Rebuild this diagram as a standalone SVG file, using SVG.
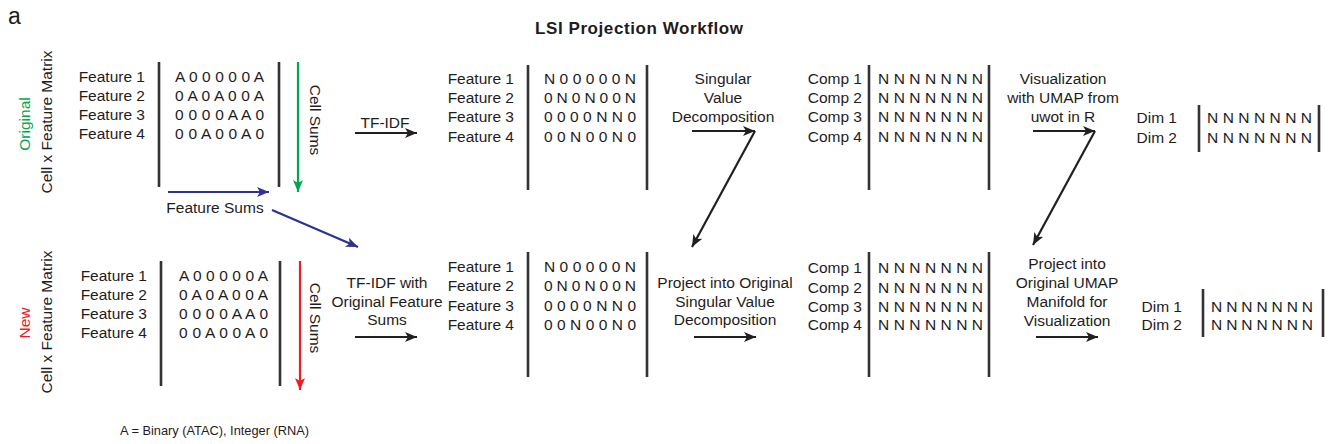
<svg xmlns="http://www.w3.org/2000/svg" width="1331" height="444" viewBox="0 0 1331 444">
<style>
text{font-family:"Liberation Sans",Arial,sans-serif;font-size:15.5px;fill:#1f1c1d}
.r{text-anchor:end}
.m{text-anchor:middle}
.bar{stroke:#333;stroke-width:2.6;fill:none}
.ar{stroke:#231f20;stroke-width:2.2;fill:none;marker-end:url(#hk)}
</style>
<defs>
<marker id="hk" markerUnits="userSpaceOnUse" markerWidth="14" markerHeight="12" refX="12" refY="5" orient="auto"><path d="M0,0 L12,5 L0,10 L3,5 Z" fill="#231f20"/></marker>
<marker id="hg" markerUnits="userSpaceOnUse" markerWidth="14" markerHeight="12" refX="12" refY="5" orient="auto"><path d="M0,0 L12,5 L0,10 L3,5 Z" fill="#00a651"/></marker>
<marker id="hr" markerUnits="userSpaceOnUse" markerWidth="14" markerHeight="12" refX="12" refY="5" orient="auto"><path d="M0,0 L12,5 L0,10 L3,5 Z" fill="#ed1c24"/></marker>
<marker id="hb" markerUnits="userSpaceOnUse" markerWidth="14" markerHeight="12" refX="12" refY="5" orient="auto"><path d="M0,0 L12,5 L0,10 L3,5 Z" fill="#2e3192"/></marker>
</defs>
<rect width="1331" height="444" fill="#fff"/>
<text x="8" y="24" style="font-size:23px">a</text>
<text x="535" y="34" textLength="208" lengthAdjust="spacing" style="font-weight:bold;font-size:17px">LSI Projection Workflow</text>

<g id="label-original">
<text class="m" transform="translate(30,124) rotate(-90)" style="fill:#00a651">Original</text>
<text class="m" transform="translate(52,122) rotate(-90)">Cell x Feature Matrix</text>
</g>
<g id="label-new">
<text class="m" transform="translate(30,323) rotate(-90)" style="fill:#ed1c24">New</text>
<text class="m" transform="translate(52,322) rotate(-90)">Cell x Feature Matrix</text>
</g>

<g id="matrix-original">
<text class="r" x="145" y="81.7">Feature 1</text>
<text class="r" x="145" y="101">Feature 2</text>
<text class="r" x="145" y="120.2">Feature 3</text>
<text class="r" x="145" y="139.4">Feature 4</text>
<line class="bar" x1="159" y1="62" x2="159" y2="187"/>
<text x="175" y="81.7" textLength="89" lengthAdjust="spacing">A 0 0 0 0 0 A</text>
<text x="175" y="101" textLength="89" lengthAdjust="spacing">0 A 0 A 0 0 A</text>
<text x="175" y="120.2" textLength="89" lengthAdjust="spacing">0 0 0 0 A A 0</text>
<text x="175" y="139.4" textLength="89" lengthAdjust="spacing">0 0 A 0 0 A 0</text>
<line class="bar" x1="279" y1="62" x2="279" y2="187"/>
</g>

<g id="matrix-new">
<text class="r" x="147" y="280.5">Feature 1</text>
<text class="r" x="147" y="299.8">Feature 2</text>
<text class="r" x="147" y="319">Feature 3</text>
<text class="r" x="147" y="338.2">Feature 4</text>
<line class="bar" x1="161" y1="261" x2="161" y2="386"/>
<text x="179" y="280.5" textLength="89" lengthAdjust="spacing">A 0 0 0 0 0 A</text>
<text x="179" y="299.8" textLength="89" lengthAdjust="spacing">0 A 0 A 0 0 A</text>
<text x="179" y="319" textLength="89" lengthAdjust="spacing">0 0 0 0 A A 0</text>
<text x="179" y="338.2" textLength="89" lengthAdjust="spacing">0 0 A 0 0 A 0</text>
<line class="bar" x1="280" y1="261" x2="280" y2="386"/>
</g>

<g id="tfidf-original">
<text class="r" x="514" y="83.6">Feature 1</text>
<text class="r" x="514" y="103">Feature 2</text>
<text class="r" x="514" y="122.3">Feature 3</text>
<text class="r" x="514" y="141.6">Feature 4</text>
<line class="bar" x1="528" y1="65" x2="528" y2="190"/>
<text x="544" y="83.6" textLength="92" lengthAdjust="spacing">N 0 0 0 0 0 N</text>
<text x="544" y="103" textLength="92" lengthAdjust="spacing">0 N 0 N 0 0 N</text>
<text x="544" y="122.3" textLength="92" lengthAdjust="spacing">0 0 0 0 N N 0</text>
<text x="544" y="141.6" textLength="92" lengthAdjust="spacing">0 0 N 0 0 N 0</text>
<line class="bar" x1="647" y1="65" x2="647" y2="190"/>
</g>

<g id="tfidf-new">
<text class="r" x="514" y="272">Feature 1</text>
<text class="r" x="514" y="291.3">Feature 2</text>
<text class="r" x="514" y="310.5">Feature 3</text>
<text class="r" x="514" y="329.6">Feature 4</text>
<line class="bar" x1="528" y1="252" x2="528" y2="377"/>
<text x="544" y="272" textLength="92" lengthAdjust="spacing">N 0 0 0 0 0 N</text>
<text x="544" y="291.3" textLength="92" lengthAdjust="spacing">0 N 0 N 0 0 N</text>
<text x="544" y="310.5" textLength="92" lengthAdjust="spacing">0 0 0 0 N N 0</text>
<text x="544" y="329.6" textLength="92" lengthAdjust="spacing">0 0 N 0 0 N 0</text>
<line class="bar" x1="647" y1="252" x2="647" y2="377"/>
</g>

<g id="svd-original">
<text class="r" x="862" y="84">Comp 1</text>
<text class="r" x="862" y="103.2">Comp 2</text>
<text class="r" x="862" y="122.4">Comp 3</text>
<text class="r" x="862" y="141.6">Comp 4</text>
<line class="bar" x1="869" y1="65" x2="869" y2="190"/>
<text x="878" y="84" textLength="105" lengthAdjust="spacing">N N N N N N N</text>
<text x="878" y="103.2" textLength="105" lengthAdjust="spacing">N N N N N N N</text>
<text x="878" y="122.4" textLength="105" lengthAdjust="spacing">N N N N N N N</text>
<text x="878" y="141.6" textLength="105" lengthAdjust="spacing">N N N N N N N</text>
<line class="bar" x1="989" y1="65" x2="989" y2="190"/>
</g>

<g id="svd-new">
<text class="r" x="862" y="273.3">Comp 1</text>
<text class="r" x="862" y="292.5">Comp 2</text>
<text class="r" x="862" y="311.5">Comp 3</text>
<text class="r" x="862" y="330.3">Comp 4</text>
<line class="bar" x1="869" y1="252" x2="869" y2="377"/>
<text x="878" y="273.3" textLength="105" lengthAdjust="spacing">N N N N N N N</text>
<text x="878" y="292.5" textLength="105" lengthAdjust="spacing">N N N N N N N</text>
<text x="878" y="311.5" textLength="105" lengthAdjust="spacing">N N N N N N N</text>
<text x="878" y="330.3" textLength="105" lengthAdjust="spacing">N N N N N N N</text>
<line class="bar" x1="989" y1="252" x2="989" y2="377"/>
</g>

<g id="umap-original">
<text class="r" x="1177" y="123.2">Dim 1</text>
<text class="r" x="1177" y="143.2">Dim 2</text>
<line class="bar" x1="1199" y1="105" x2="1199" y2="152"/>
<text x="1207" y="123.2" textLength="105" lengthAdjust="spacing">N N N N N N N</text>
<text x="1207" y="143.2" textLength="105" lengthAdjust="spacing">N N N N N N N</text>
<line class="bar" x1="1319" y1="105" x2="1319" y2="152"/>
</g>

<g id="umap-new">
<text class="r" x="1182" y="311.5">Dim 1</text>
<text class="r" x="1182" y="329.5">Dim 2</text>
<line class="bar" x1="1203" y1="289" x2="1203" y2="337"/>
<text x="1211" y="311.5" textLength="102" lengthAdjust="spacing">N N N N N N N</text>
<text x="1211" y="329.5" textLength="102" lengthAdjust="spacing">N N N N N N N</text>
<line class="bar" x1="1323" y1="289" x2="1323" y2="337"/>
</g>

<g id="labels">
<text transform="translate(310,120) rotate(90)" class="m">Cell Sums</text>
<text transform="translate(310,318) rotate(90)" class="m">Cell Sums</text>
<text class="m" x="215" y="213">Feature Sums</text>
<text class="m" x="385" y="128">TF-IDF</text>
<text class="m" x="387" y="288">TF-IDF with</text>
<text class="m" x="387" y="306.5">Original Feature</text>
<text class="m" x="387" y="325">Sums</text>
<text class="m" x="723" y="83.5">Singular</text>
<text class="m" x="723" y="102.5">Value</text>
<text class="m" x="723" y="121.5">Decomposition</text>
<text class="m" x="725" y="288">Project into Original</text>
<text class="m" x="725" y="306.5">Singular Value</text>
<text class="m" x="725" y="325">Decomposition</text>
<text class="m" x="1063" y="84">Visualization</text>
<text class="m" x="1063" y="103">with UMAP from</text>
<text class="m" x="1063" y="121.7">uwot in R</text>
<text class="m" x="1067" y="268.5">Project into</text>
<text class="m" x="1067" y="288">Original UMAP</text>
<text class="m" x="1067" y="307">Manifold for</text>
<text class="m" x="1067" y="326">Visualization</text>
<text x="120" y="434.5" style="font-size:12.8px">A = Binary (ATAC), Integer (RNA)</text>
</g>

<g id="connectors">
<line x1="298" y1="62" x2="298" y2="192" style="stroke:#00a651;stroke-width:2.2;marker-end:url(#hg)"/>
<line x1="300" y1="261" x2="300" y2="390" style="stroke:#ed1c24;stroke-width:2.2;marker-end:url(#hr)"/>
<line x1="168" y1="192" x2="269" y2="192" style="stroke:#2e3192;stroke-width:2.2;marker-end:url(#hb)"/>
<line x1="272" y1="210" x2="358" y2="247" style="stroke:#2e3192;stroke-width:2.2;marker-end:url(#hb)"/>
<line class="ar" x1="355" y1="133" x2="417" y2="133"/>
<line class="ar" x1="355" y1="337" x2="417" y2="337"/>
<line class="ar" x1="692" y1="131" x2="755" y2="131"/>
<line class="ar" x1="755" y1="131" x2="692" y2="247"/>
<line class="ar" x1="694" y1="337" x2="756" y2="337"/>
<line class="ar" x1="1033" y1="131" x2="1095" y2="131"/>
<line class="ar" x1="1095" y1="131" x2="1033" y2="245"/>
<line class="ar" x1="1036" y1="337" x2="1098" y2="337"/>
</g>
</svg>
